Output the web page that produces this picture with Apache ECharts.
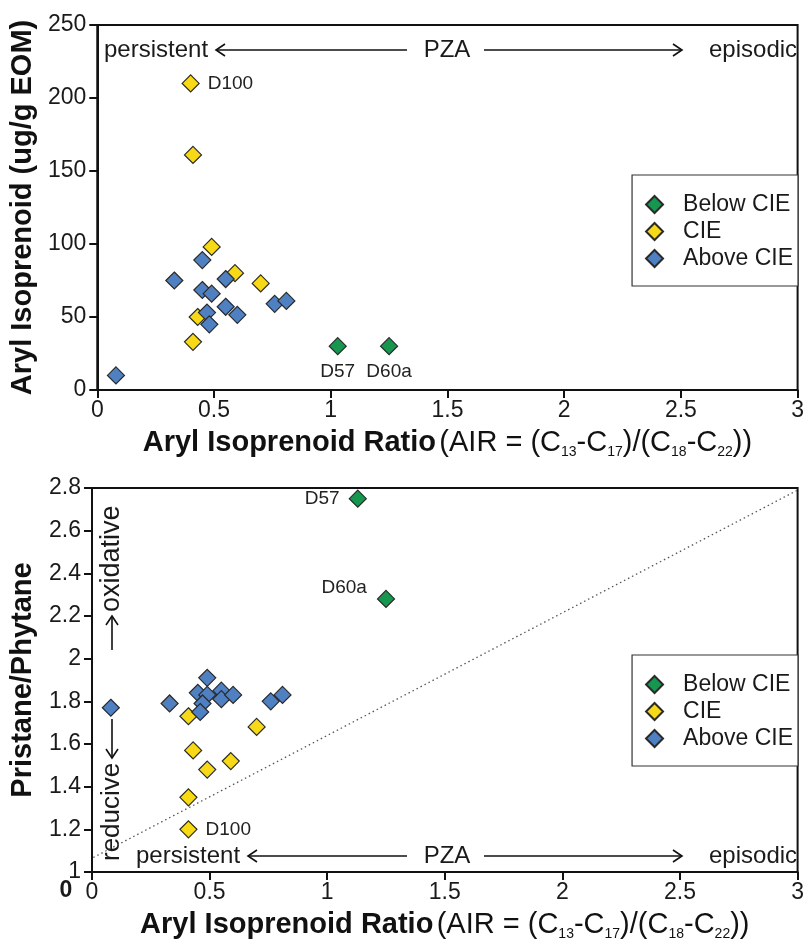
<!DOCTYPE html>
<html>
<head>
<meta charset="utf-8">
<script src="https://cdn.jsdelivr.net/npm/echarts@6/dist/echarts.min.js"></script>
<style>
  html, body { margin: 0; padding: 0; background: #fff; }
  #chart { width: 807px; height: 944px; }
</style>
</head>
<body>
<div id="chart"></div>
<script>
// Sample groups relative to the carbon isotope excursion (CIE)
const GROUPS = ['Below CIE', 'CIE', 'Above CIE'];
const COLORS = ['#16964e', '#f7d917', '#4f80c2'];

// Upper panel: aryl isoprenoid ratio vs aryl isoprenoid concentration (ug/g EOM)
const TOP_BELOW_AIR = [1.03, 1.25];
const TOP_BELOW_ARYL = [30, 30];
const TOP_BELOW_TAGS = ['D57', 'D60a'];

const TOP_CIE_AIR = [0.40, 0.41, 0.49, 0.59, 0.70, 0.43, 0.41];
const TOP_CIE_ARYL = [210, 161, 98, 80, 73, 50, 33];
const TOP_CIE_TAGS = ['D100', '', '', '', '', '', ''];

const TOP_ABOVE_AIR = [0.45, 0.33, 0.55, 0.45, 0.49, 0.76, 0.81, 0.55, 0.60, 0.47, 0.48, 0.08];
const TOP_ABOVE_ARYL = [89, 75, 76, 68.5, 66, 59, 61, 57, 51.5, 53, 45, 10];

// Lower panel: aryl isoprenoid ratio vs pristane/phytane
const BOT_BELOW_AIR = [1.13, 1.25];
const BOT_BELOW_PRPH = [2.75, 2.28];
const BOT_BELOW_TAGS = ['D57', 'D60a'];

const BOT_CIE_AIR = [0.41, 0.70, 0.43, 0.59, 0.49, 0.41, 0.41];
const BOT_CIE_PRPH = [1.73, 1.68, 1.57, 1.52, 1.48, 1.35, 1.20];
const BOT_CIE_TAGS = ['', '', '', '', '', '', 'D100'];

const BOT_ABOVE_AIR = [0.08, 0.33, 0.45, 0.49, 0.49, 0.47, 0.46, 0.55, 0.55, 0.60, 0.76, 0.81];
const BOT_ABOVE_PRPH = [1.77, 1.79, 1.84, 1.91, 1.83, 1.79, 1.75, 1.85, 1.81, 1.83, 1.80, 1.83];

// Dotted reference line across the lower panel (end points)
const REF_LINE_AIR = [-0.13, 3.0];
const REF_LINE_PRPH = [0.99, 2.79];

// Axis ranges and tick steps
const X_RANGE = [0, 3], X_STEP = 0.5;
const ARYL_RANGE = [0, 250], ARYL_STEP = 50;
const PRPH_RANGE = [1, 2.8], PRPH_STEP = 0.2;

// ---- styling / layout ----
const FONT = '"Liberation Sans", Arial, Helvetica, sans-serif';
const INK = '#111';
const TOP_GRID = { left: 91, right: 9, top: 25, height: 365 };
const BOT_GRID = { left: 91, right: 9, top: 488, height: 384 };

// label placement for tagged samples: [panel][tag]
const TAG_STYLE = {
  top: {
    D100: { position: 'right', distance: 8 },
    D57: { position: 'bottom', distance: 7 },
    D60a: { position: 'bottom', distance: 7 }
  },
  bottom: {
    D100: { position: 'right', distance: 8 },
    D57: { position: 'left', distance: 9 },
    D60a: { position: 'left', distance: 10, offset: [0, -11] }
  }
};

function points(xs, ys, tags, panel) {
  return xs.map((x, i) => {
    const tag = tags ? tags[i] : '';
    const item = { value: [x, ys[i]] };
    if (tag) {
      item.label = Object.assign({
        show: true,
        formatter: tag,
        color: '#222',
        fontFamily: FONT,
        fontSize: 19
      }, TAG_STYLE[panel][tag]);
    }
    return item;
  });
}

function scatter(name, idx, xAxisIndex, data) {
  return {
    name: name,
    type: 'scatter',
    xAxisIndex: xAxisIndex,
    yAxisIndex: xAxisIndex,
    symbol: 'diamond',
    symbolSize: 17,
    itemStyle: { color: COLORS[idx], borderColor: '#2a2a2a', borderWidth: 1.2, opacity: 1 },
    emphasis: { disabled: true },
    data: data,
    z: 3
  };
}

const subTitle = {
  b: { fontFamily: FONT, fontWeight: 'bold', fontSize: 29, color: INK, lineHeight: 30, verticalAlign: 'top' },
  r: { fontFamily: FONT, fontWeight: 'normal', fontSize: 29, color: INK, lineHeight: 30, verticalAlign: 'top' },
  s: { fontFamily: FONT, fontWeight: 'normal', fontSize: 14, color: INK, lineHeight: 14, padding: [17, 0, 0, 0], verticalAlign: 'top' }
};
const X_TITLE = '{b|Aryl Isoprenoid Ratio} {r|(AIR = (C}{s|13}{r|-C}{s|17}{r|)/(C}{s|18}{r|-C}{s|22}{r|))}';

function xAxis(gridIndex) {
  return {
    type: 'value',
    gridIndex: gridIndex,
    min: X_RANGE[0], max: X_RANGE[1], interval: X_STEP,
    name: X_TITLE,
    nameLocation: 'middle',
    nameGap: 38,
    nameTextStyle: { rich: subTitle },
    splitLine: { show: false },
    axisLine: { show: true, onZero: false, lineStyle: { color: INK, width: 2 } },
    axisTick: { show: true, length: 8, lineStyle: { color: INK, width: 2 } },
    axisLabel: { color: '#1a1a1a', fontFamily: FONT, fontSize: 23, margin: 9 }
  };
}

function yAxis(gridIndex, range, step, title) {
  return {
    type: 'value',
    gridIndex: gridIndex,
    min: range[0], max: range[1], interval: step,
    name: title,
    nameLocation: 'middle',
    nameGap: 55,
    nameTextStyle: { fontFamily: FONT, fontWeight: 'bold', fontSize: 29, color: INK },
    splitLine: { show: false },
    axisLine: { show: true, onZero: false, lineStyle: { color: INK, width: 2 } },
    axisTick: { show: true, length: 8, lineStyle: { color: INK, width: 2 } },
    axisLabel: { color: '#1a1a1a', fontFamily: FONT, fontSize: 23, margin: 11 }
  };
}

function legend(top) {
  return {
    data: GROUPS,
    orient: 'vertical',
    right: 9,
    top: top,
    backgroundColor: '#fff',
    borderColor: '#333',
    borderWidth: 1.2,
    padding: [18, 5, 16, 13],
    itemWidth: 17,
    itemHeight: 17,
    itemGap: 4,
    selectedMode: false,
    textStyle: { fontFamily: FONT, fontSize: 23, color: '#1a1a1a', lineHeight: 22, padding: [0, 0, 0, 15] }
  };
}

// ---- annotation helpers (arrows and rotated captions) ----
const ANN = { fontFamily: FONT, fontSize: 24, fill: '#1a1a1a' };

function hArrow(xTail, xHead, y) {
  const d = xHead > xTail ? 1 : -1;
  return {
    type: 'group',
    children: [
      { type: 'line', shape: { x1: xTail, y1: y, x2: xHead, y2: y }, style: { stroke: INK, lineWidth: 1.6 } },
      { type: 'polyline', shape: { points: [[xHead - d * 9, y - 6], [xHead, y], [xHead - d * 9, y + 6]] },
        style: { stroke: INK, lineWidth: 1.6, fill: null } }
    ]
  };
}

function vArrow(x, yTail, yHead) {
  const d = yHead > yTail ? 1 : -1;
  return {
    type: 'group',
    children: [
      { type: 'line', shape: { x1: x, y1: yTail, x2: x, y2: yHead }, style: { stroke: INK, lineWidth: 1.6 } },
      { type: 'polyline', shape: { points: [[x - 6, yHead - d * 9], [x, yHead], [x + 6, yHead - d * 9]] },
        style: { stroke: INK, lineWidth: 1.6, fill: null } }
    ]
  };
}

function text(str, x, y, align, extra) {
  return {
    type: 'text', x: x, y: y,
    style: Object.assign({ text: str, align: align, verticalAlign: 'middle' }, ANN, extra || {})
  };
}

function upText(str, x, yStart, size) {
  return {
    type: 'text', x: x, y: yStart, rotation: Math.PI / 2,
    style: Object.assign({}, ANN, { text: str, align: 'left', verticalAlign: 'middle', fontSize: size })
  };
}

function pzaRow(y, persistentLeft, leftHead) {
  return [
    text('persistent', persistentLeft, y, 'left'),
    hArrow(407, leftHead, y),
    text('PZA', 447, y, 'center'),
    hArrow(484, 682, y),
    text('episodic', 709, y, 'left')
  ];
}

const graphics = []
  .concat(pzaRow(50, 104, 216))
  .concat(pzaRow(856, 136, 248))
  .concat([
    // vertical redox captions in the lower panel
    upText('oxidative', 112, 612, 27),
    vArrow(112, 650, 616),
    upText('reducive', 112, 861, 26),
    vArrow(112, 719, 758),
    // stray origin label at the lower-left corner
    text('0', 66, 891, 'center', { fontWeight: 'bold', fontSize: 23 })
  ]);

const chart = echarts.init(document.getElementById('chart'), null, { renderer: 'canvas' });

chart.setOption({
  animation: false,
  backgroundColor: '#fff',
  grid: [
    Object.assign({ show: true, borderColor: INK, borderWidth: 2, backgroundColor: 'transparent' }, TOP_GRID),
    Object.assign({ show: true, borderColor: INK, borderWidth: 2, backgroundColor: 'transparent' }, BOT_GRID)
  ],
  xAxis: [xAxis(0), xAxis(1)],
  yAxis: [
    yAxis(0, ARYL_RANGE, ARYL_STEP, 'Aryl Isoprenoid (ug/g EOM)'),
    yAxis(1, PRPH_RANGE, PRPH_STEP, 'Pristane/Phytane')
  ],
  legend: [legend(175), legend(655)],
  series: [
    scatter(GROUPS[0], 0, 0, points(TOP_BELOW_AIR, TOP_BELOW_ARYL, TOP_BELOW_TAGS, 'top')),
    scatter(GROUPS[1], 1, 0, points(TOP_CIE_AIR, TOP_CIE_ARYL, TOP_CIE_TAGS, 'top')),
    scatter(GROUPS[2], 2, 0, points(TOP_ABOVE_AIR, TOP_ABOVE_ARYL, null, 'top')),
    {
      type: 'line',
      xAxisIndex: 1, yAxisIndex: 1,
      data: REF_LINE_AIR.map((x, i) => [x, REF_LINE_PRPH[i]]),
      symbol: 'none',
      clip: false,
      silent: true,
      lineStyle: { color: '#555', width: 1.3, type: [1.5, 3] },
      z: 1
    },
    scatter(GROUPS[0], 0, 1, points(BOT_BELOW_AIR, BOT_BELOW_PRPH, BOT_BELOW_TAGS, 'bottom')),
    scatter(GROUPS[1], 1, 1, points(BOT_CIE_AIR, BOT_CIE_PRPH, BOT_CIE_TAGS, 'bottom')),
    scatter(GROUPS[2], 2, 1, points(BOT_ABOVE_AIR, BOT_ABOVE_PRPH, null, 'bottom'))
  ],
  graphic: graphics
});
</script>
</body>
</html>
